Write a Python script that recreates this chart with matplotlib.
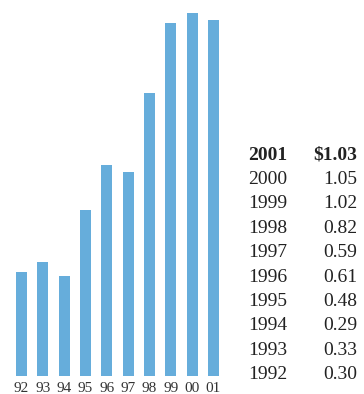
import matplotlib
matplotlib.use('Agg')
import matplotlib.pyplot as plt

years = ['92', '93', '94', '95', '96', '97', '98', '99', '00', '01']
values = [0.30, 0.33, 0.29, 0.48, 0.61, 0.59, 0.82, 1.02, 1.05, 1.03]
table_years = ['2001', '2000', '1999', '1998', '1997', '1996', '1995', '1994', '1993', '1992']
table_values = ['$1.03', '1.05', '1.02', '0.82', '0.59', '0.61', '0.48', '0.29', '0.33', '0.30']

W, H = 364, 394
fig = plt.figure(figsize=(W / 100, H / 100), dpi=100)
plt.rcParams['font.family'] = ['Liberation Serif', 'DejaVu Serif']

# axes box in pixels: x 16..219, y 13..376
ax = fig.add_axes([16 / W, 1 - 376 / H, 203 / W, 363 / H])
ax.bar(range(len(values)), values, width=0.52, color='#66addb')
ax.set_xlim(-0.26, len(values) - 1 + 0.26)
ax.set_ylim(0, 1.05)
ax.set_xticks(range(len(values)))
ax.set_xticklabels(years, fontsize=11, color='#333333')
ax.tick_params(axis='x', length=0, pad=4.5)
ax.set_yticks([])
for s in ax.spines.values():
    s.set_visible(False)

y0, dy = 155, 24.4
for i, (yr, v) in enumerate(zip(table_years, table_values)):
    y = 1 - (y0 + i * dy) / H
    w = 'bold' if i == 0 else 'normal'
    fig.text(248 / W, y, yr, ha='left', va='center', fontsize=14,
             fontweight=w, color='#222222')
    fig.text(357 / W, y, v, ha='right', va='center', fontsize=14,
             fontweight=w, color='#222222')

plt.savefig('out.png', dpi=100)
